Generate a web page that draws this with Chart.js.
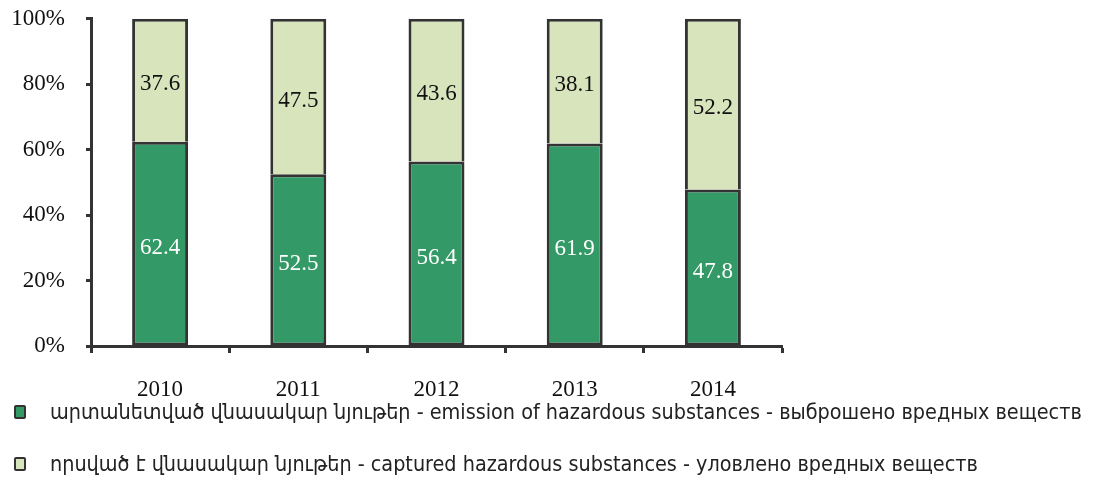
<!DOCTYPE html>
<html>
<head>
<meta charset="utf-8">
<script src="https://cdn.jsdelivr.net/npm/chart.js@4.4.0/dist/chart.umd.min.js"></script>
<style>
  html, body { margin: 0; padding: 0; background: #fff; }
  #wrap { position: relative; width: 1093px; height: 478px; overflow: hidden; }
  #chart { position: absolute; left: 0; top: -16px; }
  #legend { position: absolute; left: 14px; top: 0; font-family: "Liberation Sans Narrow", "DejaVu Sans Condensed", sans-serif; font-size: 21.4px; color: #222; }
  .item { position: absolute; left: 0; white-space: nowrap; display: flex; align-items: center; }
  .box { display: inline-block; width: 8px; height: 10px; border: 2px solid #333; border-radius: 2px; margin-right: 24px; }
</style>
</head>
<body>
<div id="wrap">
  <canvas id="chart" width="1093" height="494"></canvas>
  <div id="legend"></div>
</div>
<script>
// Data
const years = ['2010', '2011', '2012', '2013', '2014'];
const emitted = [62.4, 52.5, 56.4, 61.9, 47.8];
const captured = [37.6, 47.5, 43.6, 38.1, 52.2];
const yTicks = [0, 20, 40, 60, 80, 100];
const seriesNames = [
  'արտանետված վնասակար նյութեր - emission of hazardous substances - выброшено вредных веществ',
  'որսված է վնասակար նյութեր -  captured hazardous substances - уловлено вредных веществ'
];
const colors = ['#339966', '#d8e4bc'];
const labelColors = ['#ffffff', '#111111'];

const serif = '"Liberation Serif", "Times New Roman", serif';

// draws the value in the middle of each bar segment
const barLabels = {
  id: 'barLabels',
  afterDatasetsDraw(chart) {
    const ctx = chart.ctx;
    ctx.save();
    ctx.font = '23px ' + serif;
    ctx.textAlign = 'center';
    ctx.textBaseline = 'middle';
    chart.data.datasets.forEach((ds, i) => {
      const meta = chart.getDatasetMeta(i);
      meta.data.forEach((bar, j) => {
        ctx.fillStyle = labelColors[i];
        const mid = (bar.y + bar.base) / 2;
        ctx.fillText(ds.data[j].toFixed(1), bar.x, mid + 4);
      });
    });
    ctx.restore();
  }
};

const ctx = document.getElementById('chart').getContext('2d');
new Chart(ctx, {
  type: 'bar',
  data: {
    labels: years,
    datasets: [
      { label: seriesNames[0], data: emitted, backgroundColor: colors[0], borderColor: '#333', borderWidth: 3, borderSkipped: false },
      { label: seriesNames[1], data: captured, backgroundColor: colors[1], borderColor: '#333', borderWidth: 3, borderSkipped: 'bottom' }
    ]
  },
  options: {
    responsive: false,
    animation: false,
    layout: { padding: { top: 0, right: 311, bottom: 0, left: 0 } },
    datasets: { bar: { categoryPercentage: 1, barPercentage: 0.405 } },
    plugins: { legend: { display: false }, tooltip: { enabled: false } },
    scales: {
      x: {
        stacked: true,
        afterFit(scale) { scale.height = 132; },
        grid: { drawOnChartArea: false, tickLength: 7, tickWidth: 3, tickColor: '#333', offset: true },
        border: { color: '#333', width: 3 },
        ticks: { color: '#111', font: { family: serif, size: 23 }, padding: 23 }
      },
      y: {
        stacked: true,
        min: 0,
        max: 100,
        afterFit(scale) { scale.width = 91; },
        afterBuildTicks(scale) { scale.ticks = yTicks.map(v => ({ value: v })); },
        grid: { drawOnChartArea: false, tickLength: 5, tickWidth: 3, tickColor: '#333' },
        border: { color: '#333', width: 3 },
        ticks: { color: '#111', font: { family: serif, size: 23 }, padding: 21, callback: v => v + '%' }
      }
    }
  },
  plugins: [barLabels]
});

// legend
const legend = document.getElementById('legend');
const legendTops = [399, 451];
seriesNames.forEach((name, i) => {
  const item = document.createElement('div');
  item.className = 'item';
  item.style.top = legendTops[i] + 'px';
  const box = document.createElement('span');
  box.className = 'box';
  box.style.background = colors[i];
  const txt = document.createElement('span');
  txt.textContent = name;
  item.appendChild(box);
  item.appendChild(txt);
  legend.appendChild(item);
});
</script>
</body>
</html>
